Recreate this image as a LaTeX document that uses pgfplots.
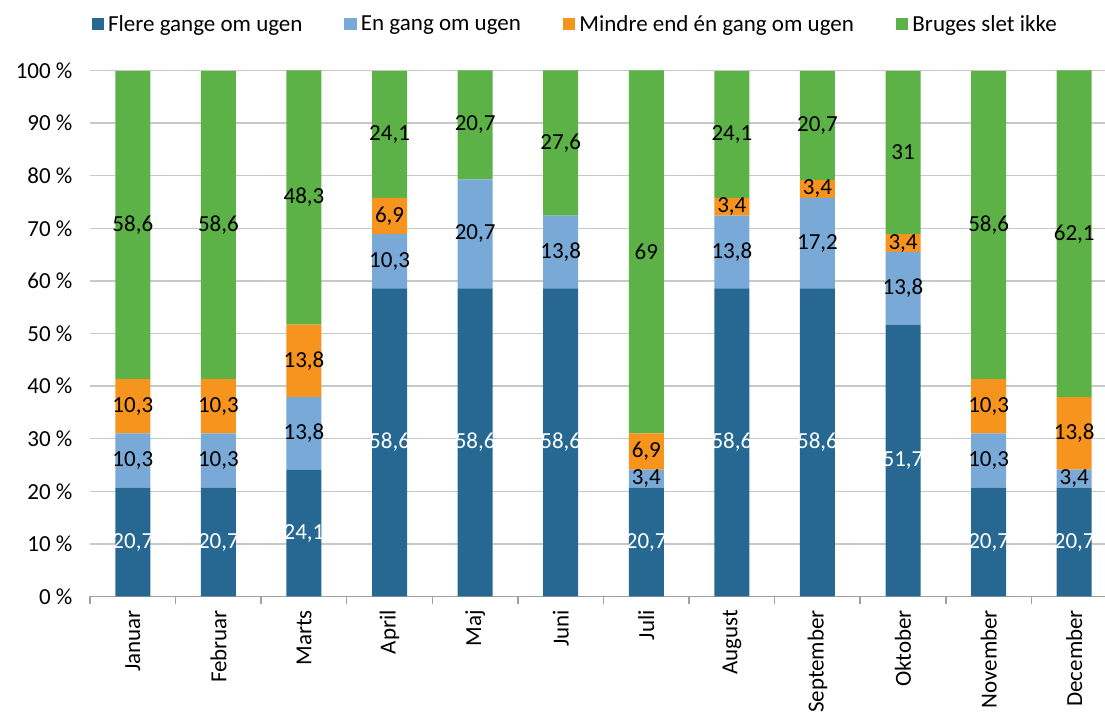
\documentclass[border=0pt]{standalone}
\usepackage{fontspec}
\setmainfont{Carlito}
\usepackage{pgfplots}
\usepackage{pgfplotstable}
\pgfplotsset{compat=1.18}
\definecolor{cA}{RGB}{38,104,145}
\definecolor{cB}{RGB}{120,169,215}
\definecolor{cC}{RGB}{247,148,30}
\definecolor{cD}{RGB}{93,178,71}
\definecolor{gridc}{RGB}{200,200,200}
\definecolor{axc}{RGB}{160,160,160}

\pgfplotstableread{
x v l
0 20.7 20,7
1 20.7 20,7
2 24.1 24,1
3 58.6 58,6
4 58.6 58,6
5 58.6 58,6
6 20.7 20,7
7 58.6 58,6
8 58.6 58,6
9 51.7 51,7
10 20.7 20,7
11 20.7 20,7
}\tblA
\pgfplotstableread{
x v l
0 10.3 10,3
1 10.3 10,3
2 13.8 13,8
3 10.3 10,3
4 20.7 20,7
5 13.8 13,8
6 3.4 3,4
7 13.8 13,8
8 17.2 17,2
9 13.8 13,8
10 10.3 10,3
11 3.4 3,4
}\tblB
\pgfplotstableread{
x v l
0 10.3 10,3
1 10.3 10,3
2 13.8 13,8
3 6.9 6,9
4 0 {}
5 0 {}
6 6.9 6,9
7 3.4 3,4
8 3.4 3,4
9 3.4 3,4
10 10.3 10,3
11 13.8 13,8
}\tblC
\pgfplotstableread{
x v l
0 58.6 58,6
1 58.6 58,6
2 48.3 48,3
3 24.1 24,1
4 20.7 20,7
5 27.6 27,6
6 69 69
7 24.1 24,1
8 20.7 20,7
9 31 31
10 58.6 58,6
11 62.1 62,1
}\tblD

\begin{document}
\begin{tikzpicture}
\useasboundingbox (0,0) rectangle (552.5pt,357.5pt);
\begin{axis}[
  at={(45pt,59.25pt)}, anchor=south west,
  scale only axis, width=507.5pt, height=263pt,
  ybar stacked, bar width=17.5pt,
  xmin=-0.5, xmax=11.36, ymin=0, ymax=100,
  axis x line*=bottom, axis y line*=left,
  x axis line style={axc, line width=0.75pt},
  y axis line style={draw=none},
  xtick={0,...,11},
  xticklabels={Januar,Februar,Marts,April,Maj,Juni,Juli,August,September,Oktober,November,December},
  major x tick style={draw=none},
  minor xtick={-0.5,0.5,...,10.5},
  minor tick length=4pt,
  tick align=outside,
  minor x tick style={axc, line width=0.75pt},
  xticklabel style={rotate=90, anchor=east, font=\fontsize{11.5}{13}\selectfont, xshift=1pt},
  ytick={0,10,...,100},
  yticklabels={0 \%,10 \%,20 \%,30 \%,40 \%,50 \%,60 \%,70 \%,80 \%,90 \%,100 \%},
  ymajorgrids, major grid style={gridc, line width=0.75pt},
  yticklabel style={font=\fontsize{11.5}{13}\selectfont, anchor=east, xshift=-1pt},
  major y tick style={draw=none},
  point meta=explicit symbolic,
  nodes near coords,
  every node near coord/.append style={anchor=center, font=\fontsize{11.5}{13}\selectfont},
  legend style={at={(0.479,1.087)}, anchor=center, legend columns=4, draw=none,
     font=\fontsize{11.5}{13}\selectfont, /tikz/every even column/.append style={column sep=19pt}},
  legend image code/.code={\fill[#1] (0pt,-2.6pt) rectangle (6.25pt,3.4pt);},
  clip=false,
]
\addplot[fill=cA, draw=none, every node near coord/.append style={text=white}] table[x=x,y=v,meta=l]{\tblA};
\addplot[fill=cB, draw=none] table[x=x,y=v,meta=l]{\tblB};
\addplot[fill=cC, draw=none] table[x=x,y=v,meta=l]{\tblC};
\addplot[fill=cD, draw=none] table[x=x,y=v,meta=l]{\tblD};
\legend{Flere gange om ugen, En gang om ugen, Mindre end én gang om ugen, Bruges slet ikke}
\end{axis}
\end{tikzpicture}
\end{document}
